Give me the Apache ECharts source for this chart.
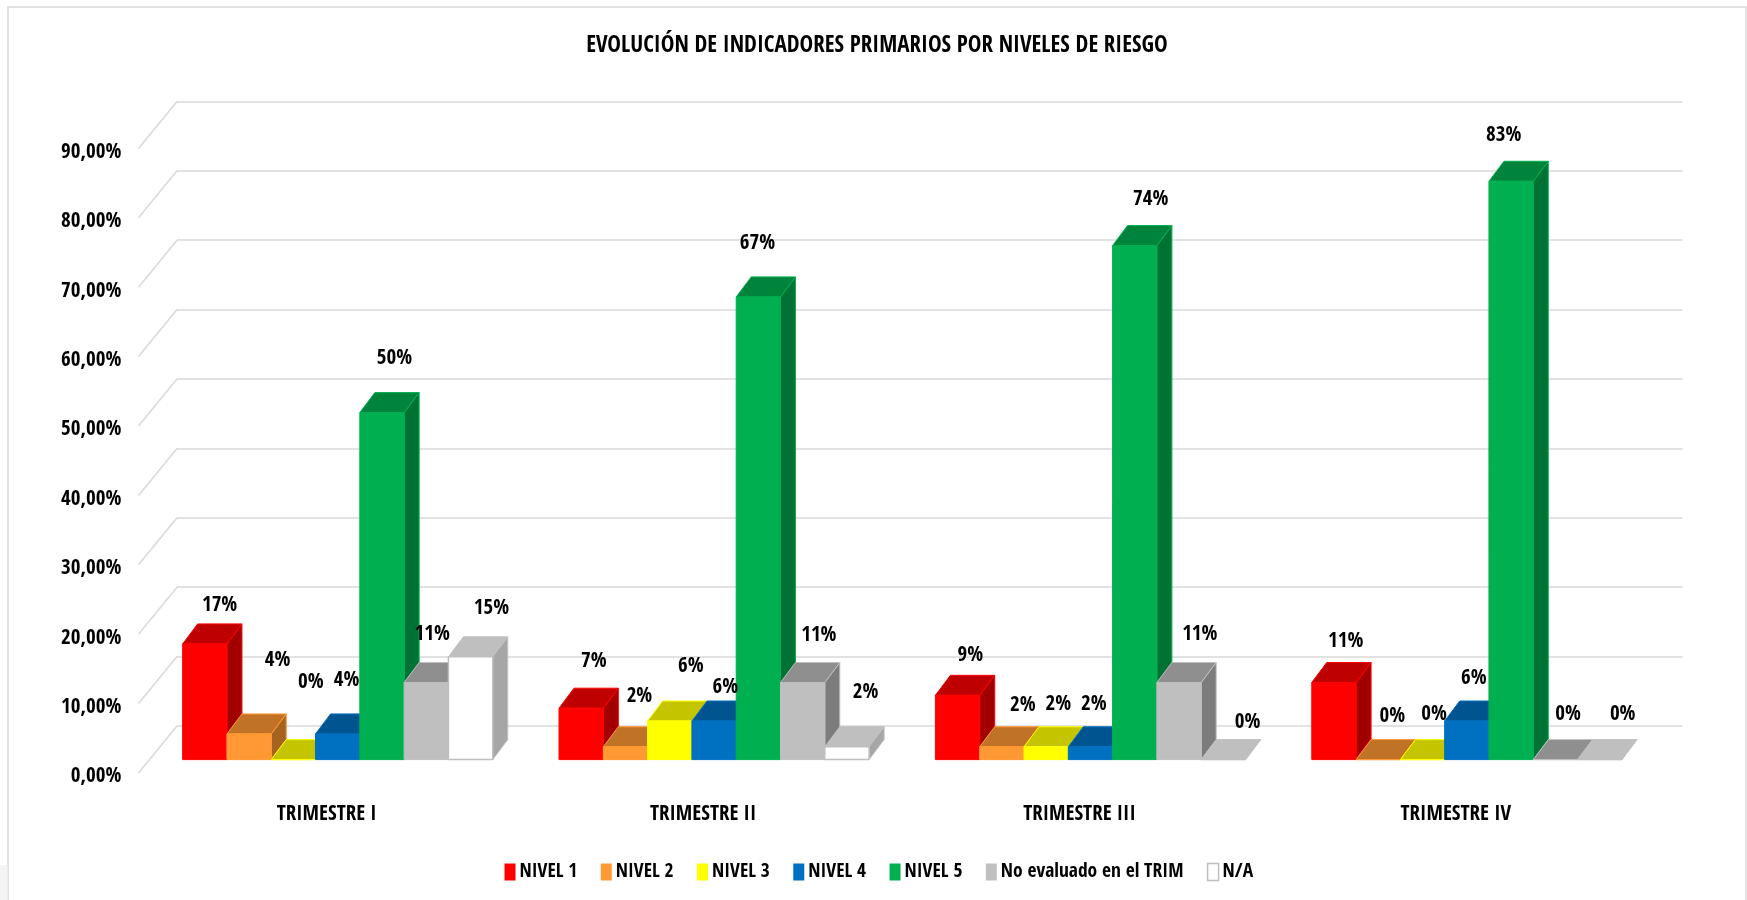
<!DOCTYPE html>
<html><head><meta charset="utf-8">
<style>html,body{margin:0;padding:0;background:#fff}#c{width:1747px;height:900px}</style>
<script src="https://cdn.jsdelivr.net/npm/echarts@6/dist/echarts.min.js"></script>
</head><body><div id="c"></div>
<script>
const categories = ['TRIMESTRE I','TRIMESTRE II','TRIMESTRE III','TRIMESTRE IV'];
const nivel1 = [16.67, 7.41, 9.26, 11.11];
const nivel2 = [3.70, 1.85, 1.85, 0];
const nivel3 = [0, 5.56, 1.85, 0];
const nivel4 = [3.70, 5.56, 1.85, 5.56];
const nivel5 = [50, 66.67, 74.07, 83.33];
const noEvaluado = [11.11, 11.11, 11.11, 0];
const na = [14.81, 1.85, 0, 0];
const yTicks = [0,10,20,30,40,50,60,70,80,90];

const FONT = '"Open Sans Condensed","Liberation Sans",sans-serif';
const seriesDefs = [
  {name:'NIVEL 1', values:nivel1, front:'#FF0000', top:'#BF0000', side:'#A20000', line:'#FF0000'},
  {name:'NIVEL 2', values:nivel2, front:'#FF9933', top:'#C07326', side:'#A5631F', line:'#FF9933'},
  {name:'NIVEL 3', values:nivel3, front:'#FFFF00', top:'#C4C400', side:'#A6A600', line:'#FFFF00'},
  {name:'NIVEL 4', values:nivel4, front:'#0070C0', top:'#005490', side:'#00497D', line:'#0070C0'},
  {name:'NIVEL 5', values:nivel5, front:'#00B050', top:'#00843C', side:'#007234', line:'#00B050'},
  {name:'No evaluado en el TRIM', values:noEvaluado, front:'#BFBFBF', top:'#8F8F8F', side:'#7C7C7C', line:'#BFBFBF'},
  {name:'N/A', values:na, front:'#FFFFFF', top:'#BFBFBF', side:'#A6A6A6', line:'#BFBFBF'}
];
// label displacement from the bar's top, per series then per quarter
const labelShift = [
  [[14.8,-41.4],[12.6,-50],[12.7,-42.7],[11.8,-43.9]],
  [[28.4,-76.8],[14,-52.9],[20.9,-44],[14.2,-46]],
  [[17.5,-80.2],[21,-57.2],[12.1,-45.2],[11.5,-48]],
  [[8.9,-56.8],[11.2,-36.1],[3.5,-45.2],[7,-45.7]],
  [[12.5,-57.5],[-0.8,-56.5],[16,-48.7],[-7.3,-49]],
  [[6,-51],[16.2,-49.9],[20.8,-51],[12.6,-48]],
  [[20.8,-51],[18.7,-57.4],[24.3,-40.1],[23,-48]]
];
const LABEL_DROP = 3;
const DX = 15, DY = 20, WALL_DX = 38.5, WALL_DY = 47;
const BAR_FRAC = 44.3/376.4;
const W = 1505.5, H = 624.6;

function barRender(si){
  const d = seriesDefs[si];
  return function(params, api){
    const c = api.value(0), v = api.value(1);
    const band = api.size([1,0])[0];
    const bw = band*BAR_FRAC;
    const base = api.coord([c,0]);
    const topP = api.coord([c,v]);
    const x0 = base[0] - 3.5*bw + si*bw, x1 = x0 + bw;
    const yb = base[1], yt = topP[1];
    const stroke = {stroke:d.line, lineWidth:1, lineJoin:'round'};
    const shift = labelShift[si][params.dataIndex];
    return {type:'group', children:[
      {type:'polygon', shape:{points:[[x1,yb],[x1+DX,yb-DY],[x1+DX,yt-DY],[x1,yt]]}, style:Object.assign({fill:d.side},stroke)},
      {type:'polygon', shape:{points:[[x0,yt],[x0+DX,yt-DY],[x1+DX,yt-DY],[x1,yt]]}, style:Object.assign({fill:d.top},stroke)},
      {type:'polygon', shape:{points:[[x0,yb],[x0,yt],[x1,yt],[x1,yb]]}, style:Object.assign({fill:d.front},stroke,si===6?{lineWidth:1.5}:{})},
      {type:'text', z2:100, x:(x0+x1)/2+shift[0], y:yt+shift[1]+LABEL_DROP,
       style:{text:Math.round(v)+'%', fill:'#000', font:'bold 21px '+FONT, textAlign:'center', textVerticalAlign:'middle'}}
    ]};
  };
}

const series = [{
  type:'custom', name:'wall', xAxisIndex:0, yAxisIndex:0, silent:true, clip:false, z:1,
  encode:{x:0,y:1},
  data: yTicks.map(t=>[0,t]),
  renderItem:function(p,api){
    const band = api.size([1,0])[0];
    const a = api.coord([0,api.value(1)]);
    const xb = a[0]-band/2;
    return {type:'line', shape:{x1:xb,y1:a[1],x2:xb-WALL_DX,y2:a[1]+WALL_DY}, style:{stroke:'#D9D9D9',lineWidth:1.5}};
  }
}];
seriesDefs.forEach((d,i)=>series.push({
  type:'custom', name:d.name, xAxisIndex:2, yAxisIndex:2, clip:false, z:2,
  itemStyle:{color:d.front,borderColor:d.line},
  encode:{x:0,y:1},
  data:d.values.map((v,c)=>[c,v]),
  renderItem:barRender(i)
}));

function xA(idx,show){return {gridIndex:idx,type:'category',data:categories,
  axisLine:{show:false},axisTick:{show:false},splitLine:{show:false},
  axisLabel:{show:show,margin:27,color:'#000',fontFamily:FONT,fontWeight:'bold',fontSize:21}};}
function yA(idx,showLabel,showSplit){return {gridIndex:idx,type:'value',min:0,max:90,interval:10,
  axisLine:{show:false},axisTick:{show:false},
  splitLine:{show:showSplit,lineStyle:{color:'#D9D9D9',width:1.5}},
  axisLabel:{show:showLabel,margin:17,color:'#000',fontFamily:FONT,fontWeight:'bold',fontSize:21,
    formatter:v=>v.toFixed(2).replace('.',',')+'%'}};}

const chart = echarts.init(document.getElementById('c'),null,{renderer:'canvas'});
chart.setOption({
  animation:false, backgroundColor:'#fff',
  title:{text:'EVOLUCIÓN DE INDICADORES PRIMARIOS POR NIVELES DE RIESGO',left:872,top:29,textAlign:'center',
    textStyle:{color:'#000',fontFamily:FONT,fontWeight:'bold',fontSize:23}},
  legend:{left:499.5,top:857,itemWidth:11,itemHeight:17,itemGap:23.4,icon:'rect',
    data:seriesDefs.map(d=>({name:d.name,itemStyle:{color:d.front,borderColor:d.line,borderWidth:d.name==='N/A'?1.5:0}})),
    textStyle:{color:'#000',fontFamily:FONT,fontWeight:'bold',fontSize:19.5,padding:[0,0,0,-1]}},
  grid:[
    {left:177,top:101.4,width:W,height:H},
    {left:138.5,top:152.4,width:W,height:H},
    {left:149.5,top:135,width:W,height:H}
  ],
  xAxis:[xA(0,false),xA(1,true),xA(2,false)],
  yAxis:[yA(0,false,true),yA(1,true,false),yA(2,false,false)],
  graphic:[
    {type:'rect',z:-1,silent:true,shape:{x:8,y:7,width:1738,height:1000},style:{fill:'none',stroke:'#D9D9D9',lineWidth:1.5}},
    {type:'rect',z:-1,silent:true,shape:{x:0,y:865,width:7.5,height:35},style:{fill:'#F4F4F4'}}
  ],
  series:series
});
</script></body></html>
